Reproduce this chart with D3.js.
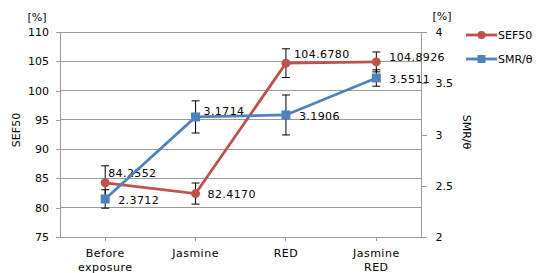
<!DOCTYPE html>
<html>
<head>
    <meta charset="utf-8">
    <script src="https://cdn.jsdelivr.net/npm/d3@7/dist/d3.min.js"></script>
    <style>
        body { margin: 0; background: #fff; }
        text { font-family: "DejaVu Sans", Verdana, sans-serif; font-size: 11px; fill: #000; }
    </style>
</head>
<body>
    <svg width="537" height="273" id="mainsvg"></svg>
    <script>
        // values
        const categories = [['Before', 'exposure'], ['Jasmine'], ['RED'], ['Jasmine', 'RED']];
        const sef50 = [84.2552, 82.4170, 104.6780, 104.8926];
        const sef50Err = [2.9, 1.8, 2.45, 1.7];
        const smr = [2.3712, 3.1714, 3.1906, 3.5511];
        const smrErr = [0.09, 0.157, 0.195, 0.08];
        const leftTicks = [75, 80, 85, 90, 95, 100, 105, 110];
        const rightTicks = [2, 2.5, 3, 3.5, 4];
        // manual nudges of the data labels (px), as in the original
        const sefLabelShift = [[3, -10], [12, 0], [8, -9], [13, -5]];
        const smrLabelShift = [[13, 1], [8, -6], [13, 1], [13, 1]];

        const svg = d3.select('svg');
        const red = '#c0504d', blue = '#4f81bd', grid = '#9a9a9a';
        const plotLeft = 60, plotRight = 421.5, plotTop = 32, plotBottom = 237;

        const x = d3.scaleBand().domain(d3.range(categories.length)).range([plotLeft, plotRight]);
        const yL = d3.scaleLinear().domain([75, 110]).range([plotBottom, plotTop]);
        const yR = d3.scaleLinear().domain([2, 4]).range([plotBottom, plotTop]);
        const cx = i => x(i) + x.bandwidth() / 2;

        // gridlines
        svg.append('g').selectAll('line').data(leftTicks).join('line')
            .attr('x1', plotLeft).attr('x2', plotRight)
            .attr('y1', d => yL(d)).attr('y2', d => yL(d))
            .attr('stroke', grid).attr('stroke-width', 1).attr('shape-rendering', 'crispEdges');

        // left axis
        const axL = svg.append('g').attr('transform', `translate(${plotLeft},0)`)
            .call(d3.axisLeft(yL).tickValues(leftTicks).tickSize(4).tickPadding(7));
        // right axis
        const axR = svg.append('g').attr('transform', `translate(${plotRight},0)`)
            .call(d3.axisRight(yR).tickValues(rightTicks).tickFormat(d3.format('')).tickSize(5).tickPadding(9));
        // category axis
        const axB = svg.append('g').attr('transform', `translate(0,${plotBottom})`)
            .call(d3.axisBottom(x).tickSize(4).tickFormat(''));
        [axL, axR, axB].forEach(a => {
            a.select('.domain').attr('stroke', grid).attr('shape-rendering', 'crispEdges');
            a.selectAll('.tick line').attr('stroke', grid).attr('shape-rendering', 'crispEdges');
            a.selectAll('text').style('font-size', '11px').attr('fill', '#000');
        });
        axB.select('.domain').remove();
        axR.select('.domain').attr('d', `M0,${plotTop}V${plotBottom}`);
        axL.select('.domain').attr('d', `M0,${plotTop}V${plotBottom}`);

        // category labels
        const catG = svg.append('g');
        categories.forEach((lines, i) => {
            const t = catG.append('text').attr('text-anchor', 'middle')
                .attr('x', cx(i)).attr('y', 257).style('letter-spacing', '0.5px');
            lines.forEach((s, k) => t.append('tspan').attr('x', cx(i)).attr('dy', k ? 14 : 0).text(s));
        });

        // unit labels and axis titles
        svg.append('text').attr('x', 37).attr('y', 21).attr('text-anchor', 'middle').text('[%]');
        svg.append('text').attr('x', 442).attr('y', 20).attr('text-anchor', 'middle').text('[%]');
        svg.append('text').attr('transform', 'translate(20,130) rotate(-90)').attr('text-anchor', 'middle').text('SEF50');
        svg.append('text').attr('transform', 'translate(463,132) rotate(90)').attr('text-anchor', 'middle').text('SMR/θ');

        // series
        const drawSeries = (vals, errs, y, color, shape, shift) => {
            const g = svg.append('g');
            g.append('path').datum(vals)
                .attr('d', d3.line().x((d, i) => cx(i)).y(d => y(d)))
                .attr('fill', 'none').attr('stroke', color).attr('stroke-width', 2.8);
            // error bars
            vals.forEach((v, i) => {
                const y0 = y(v - errs[i]), y1 = y(v + errs[i]), xc = cx(i);
                g.append('path')
                    .attr('d', `M${xc},${y0}V${y1}M${xc - 4},${y0}H${xc + 4}M${xc - 4},${y1}H${xc + 4}`)
                    .attr('stroke', '#000').attr('stroke-width', 1).attr('fill', 'none');
            });
            if (shape === 'circle') {
                g.selectAll('circle').data(vals).join('circle')
                    .attr('cx', (d, i) => cx(i)).attr('cy', d => y(d)).attr('r', 4.5).attr('fill', color);
            } else {
                g.selectAll('rect').data(vals).join('rect')
                    .attr('x', (d, i) => cx(i) - 4.5).attr('y', d => y(d) - 4.5)
                    .attr('width', 9).attr('height', 9).attr('fill', color);
            }
            g.selectAll('text.lbl').data(vals).join('text').attr('class', 'lbl')
                .attr('x', (d, i) => cx(i) + shift[i][0]).attr('y', (d, i) => y(d) + shift[i][1] + 4)
                .style('letter-spacing', '0.4px')
                .text(d => d.toFixed(4));
        };
        drawSeries(sef50, sef50Err, yL, red, 'circle', sefLabelShift);
        drawSeries(smr, smrErr, yR, blue, 'rect', smrLabelShift);

        // legend
        const legend = [['SEF50', red, 'circle'], ['SMR/θ', blue, 'rect']];
        legend.forEach(([name, color, shape], k) => {
            const ly = 35 + k * 24;
            svg.append('line').attr('x1', 466).attr('x2', 497).attr('y1', ly).attr('y2', ly)
                .attr('stroke', color).attr('stroke-width', 2.8);
            if (shape === 'circle') {
                svg.append('circle').attr('cx', 481.5).attr('cy', ly).attr('r', 4).attr('fill', color);
            } else {
                svg.append('rect').attr('x', 477.5).attr('y', ly - 4).attr('width', 8).attr('height', 8).attr('fill', color);
            }
            svg.append('text').attr('x', 498).attr('y', ly + 4).text(name);
        });
    </script>
</body>
</html>
